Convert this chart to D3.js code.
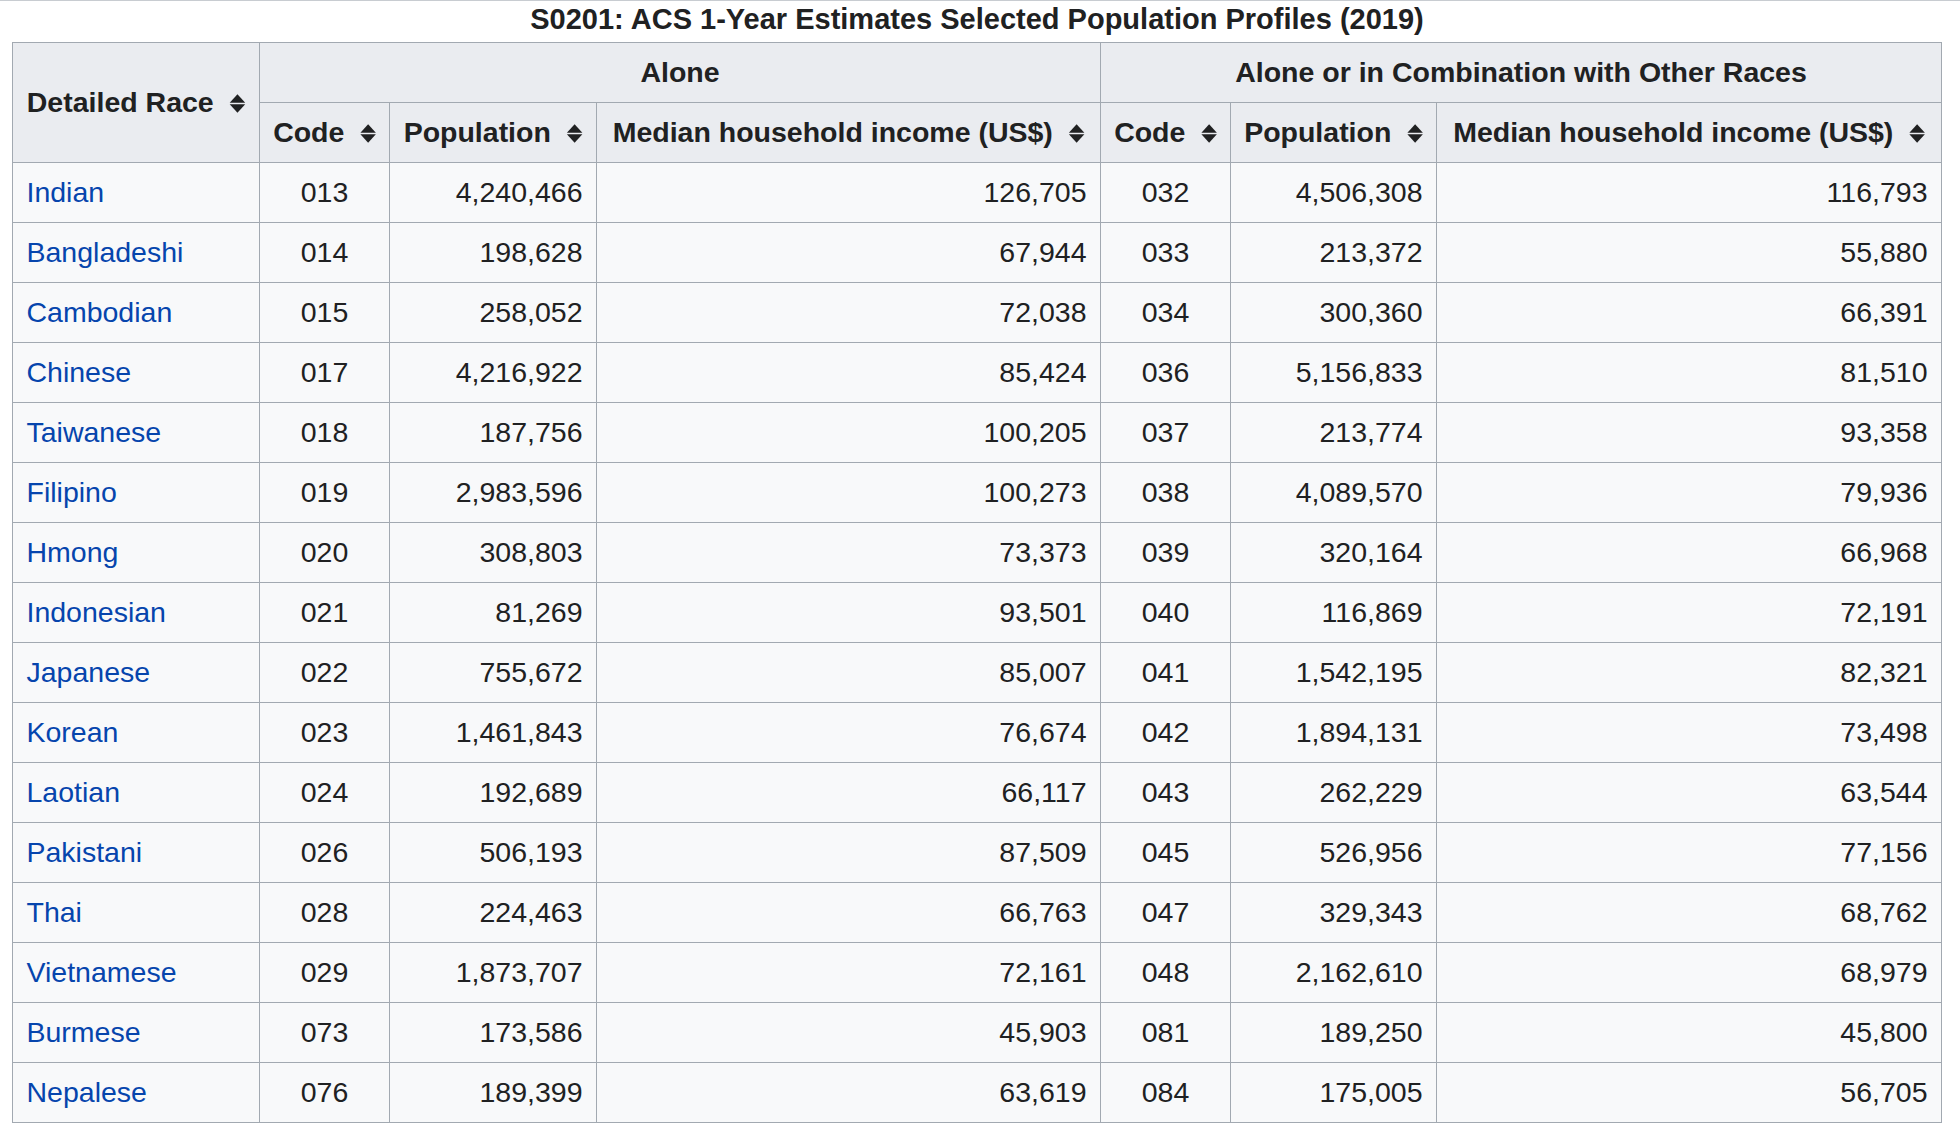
<!DOCTYPE html>
<html>
<head>
<meta charset="utf-8">
<script src="https://cdn.jsdelivr.net/npm/d3@7"></script>
<style>
  html, body { margin: 0; padding: 0; background: #fff; }
  svg { display: block; }
  text { font-family: "Liberation Sans", Arial, sans-serif; }
</style>
</head>
<body>
<svg id="chart" width="1960" height="1139"></svg>
<script>
// ---- data ----
const title = "S0201: ACS 1-Year Estimates Selected Population Profiles (2019)";
const groupHeaders = ["Alone", "Alone or in Combination with Other Races"];
const columnHeaders = ["Code", "Population", "Median household income (US$)"];
const firstHeader = "Detailed Race";

const races = ["Indian", "Bangladeshi", "Cambodian", "Chinese", "Taiwanese", "Filipino", "Hmong",
  "Indonesian", "Japanese", "Korean", "Laotian", "Pakistani", "Thai", "Vietnamese", "Burmese", "Nepalese"];

const aloneCode = ["013", "014", "015", "017", "018", "019", "020", "021", "022", "023", "024", "026", "028", "029", "073", "076"];
const alonePopulation = [4240466, 198628, 258052, 4216922, 187756, 2983596, 308803, 81269, 755672, 1461843,
  192689, 506193, 224463, 1873707, 173586, 189399];
const aloneIncome = [126705, 67944, 72038, 85424, 100205, 100273, 73373, 93501, 85007, 76674,
  66117, 87509, 66763, 72161, 45903, 63619];

const comboCode = ["032", "033", "034", "036", "037", "038", "039", "040", "041", "042", "043", "045", "047", "048", "081", "084"];
const comboPopulation = [4506308, 213372, 300360, 5156833, 213774, 4089570, 320164, 116869, 1542195, 1894131,
  262229, 526956, 329343, 2162610, 189250, 175005];
const comboIncome = [116793, 55880, 66391, 81510, 93358, 79936, 66968, 72191, 82321, 73498,
  63544, 77156, 68762, 68979, 45800, 56705];

// ---- layout ----
const fontSize = 28.5;
const titleSize = 29;
const border = "#a2a9b1";
const headBg = "#eaecf0";
const cellBg = "#f8f9fa";
const textColor = "#202122";
const linkColor = "#0645ad";
const pad = 14;

const colKeys = ["race", "aCode", "aPop", "aInc", "cCode", "cPop", "cInc"];
const colEdges = [12.5, 259.5, 389.5, 596.5, 1100.5, 1230.5, 1436.5, 1941.5];
const colLeft = d3.scaleOrdinal().domain(colKeys).range(colEdges.slice(0, 7));
const colRight = d3.scaleOrdinal().domain(colKeys).range(colEdges.slice(1));
const colAlign = { race: "start", aCode: "middle", aPop: "end", aInc: "end", cCode: "middle", cPop: "end", cInc: "end" };

const tableTop = 42.5, headRowH = 60, headBottom = tableTop + 2 * headRowH;
const y = d3.scaleBand().domain(races).range([headBottom, headBottom + races.length * 60]).padding(0);

const fmt = d3.format(",");
const columns = {
  race: races,
  aCode: aloneCode,
  aPop: alonePopulation.map(fmt),
  aInc: aloneIncome.map(fmt),
  cCode: comboCode,
  cPop: comboPopulation.map(fmt),
  cInc: comboIncome.map(fmt)
};

const svg = d3.select("#chart");

// top page line
svg.append("line").attr("x1", 0).attr("x2", 1960).attr("y1", 0.5).attr("y2", 0.5)
  .attr("stroke", "#c8ccd1").attr("stroke-width", 1);

// title
svg.append("text")
  .attr("x", (colEdges[0] + colEdges[7]) / 2)
  .attr("y", 28.5)
  .attr("text-anchor", "middle")
  .attr("font-size", titleSize)
  .attr("font-weight", "bold")
  .attr("fill", textColor)
  .text(title);

// sort icon
function sortIcon(g, xRight, yc) {
  const w = 15.5, h = 8.4, gap = 1.6;
  const x0 = xRight - w;
  g.append("path")
    .attr("d", `M${x0},${yc - gap / 2} L${x0 + w / 2},${yc - gap / 2 - h} L${x0 + w},${yc - gap / 2} Z`)
    .attr("fill", textColor);
  g.append("path")
    .attr("d", `M${x0},${yc + gap / 2} L${x0 + w / 2},${yc + gap / 2 + h} L${x0 + w},${yc + gap / 2} Z`)
    .attr("fill", textColor);
}

// header cell with text + sort icon, centered as a group
function sortHeader(x0, x1, y0, y1, label) {
  const g = svg.append("g");
  g.append("rect").attr("x", x0).attr("y", y0).attr("width", x1 - x0).attr("height", y1 - y0)
    .attr("fill", headBg).attr("stroke", border).attr("stroke-width", 1);
  const t = g.append("text")
    .attr("y", (y0 + y1) / 2 + fontSize * 0.35)
    .attr("font-size", fontSize).attr("font-weight", "bold").attr("fill", textColor)
    .text(label);
  const tw = t.node().getComputedTextLength();
  const gapW = 16, iconW = 15.5;
  const total = tw + gapW + iconW;
  const start = (x0 + x1) / 2 - total / 2;
  t.attr("x", start);
  sortIcon(g, start + total, (y0 + y1) / 2 + 1);
}

function plainHeader(x0, x1, y0, y1, label) {
  const g = svg.append("g");
  g.append("rect").attr("x", x0).attr("y", y0).attr("width", x1 - x0).attr("height", y1 - y0)
    .attr("fill", headBg).attr("stroke", border).attr("stroke-width", 1);
  g.append("text")
    .attr("x", (x0 + x1) / 2)
    .attr("y", (y0 + y1) / 2 + fontSize * 0.35)
    .attr("text-anchor", "middle")
    .attr("font-size", fontSize).attr("font-weight", "bold").attr("fill", textColor)
    .text(label);
}

// header rows
sortHeader(colLeft("race"), colRight("race"), tableTop, headBottom, firstHeader);
plainHeader(colLeft("aCode"), colRight("aInc"), tableTop, tableTop + headRowH, groupHeaders[0]);
plainHeader(colLeft("cCode"), colRight("cInc"), tableTop, tableTop + headRowH, groupHeaders[1]);
["aCode", "aPop", "aInc"].forEach((k, i) =>
  sortHeader(colLeft(k), colRight(k), tableTop + headRowH, headBottom, columnHeaders[i]));
["cCode", "cPop", "cInc"].forEach((k, i) =>
  sortHeader(colLeft(k), colRight(k), tableTop + headRowH, headBottom, columnHeaders[i]));

// body cells
const rows = svg.append("g").selectAll("g.row").data(races).join("g").attr("class", "row");
colKeys.forEach(k => {
  rows.append("rect")
    .attr("x", colLeft(k))
    .attr("y", d => y(d))
    .attr("width", colRight(k) - colLeft(k))
    .attr("height", y.bandwidth())
    .attr("fill", cellBg).attr("stroke", border).attr("stroke-width", 1);
});
colKeys.forEach(k => {
  rows.append("text")
    .attr("x", () => colAlign[k] === "start" ? colLeft(k) + pad : colAlign[k] === "end" ? colRight(k) - pad : (colLeft(k) + colRight(k)) / 2)
    .attr("y", d => y(d) + y.bandwidth() / 2 + fontSize * 0.35)
    .attr("text-anchor", colAlign[k])
    .attr("font-size", fontSize)
    .attr("fill", k === "race" ? linkColor : textColor)
    .text((d, i) => columns[k][i]);
});
</script>
</body>
</html>
